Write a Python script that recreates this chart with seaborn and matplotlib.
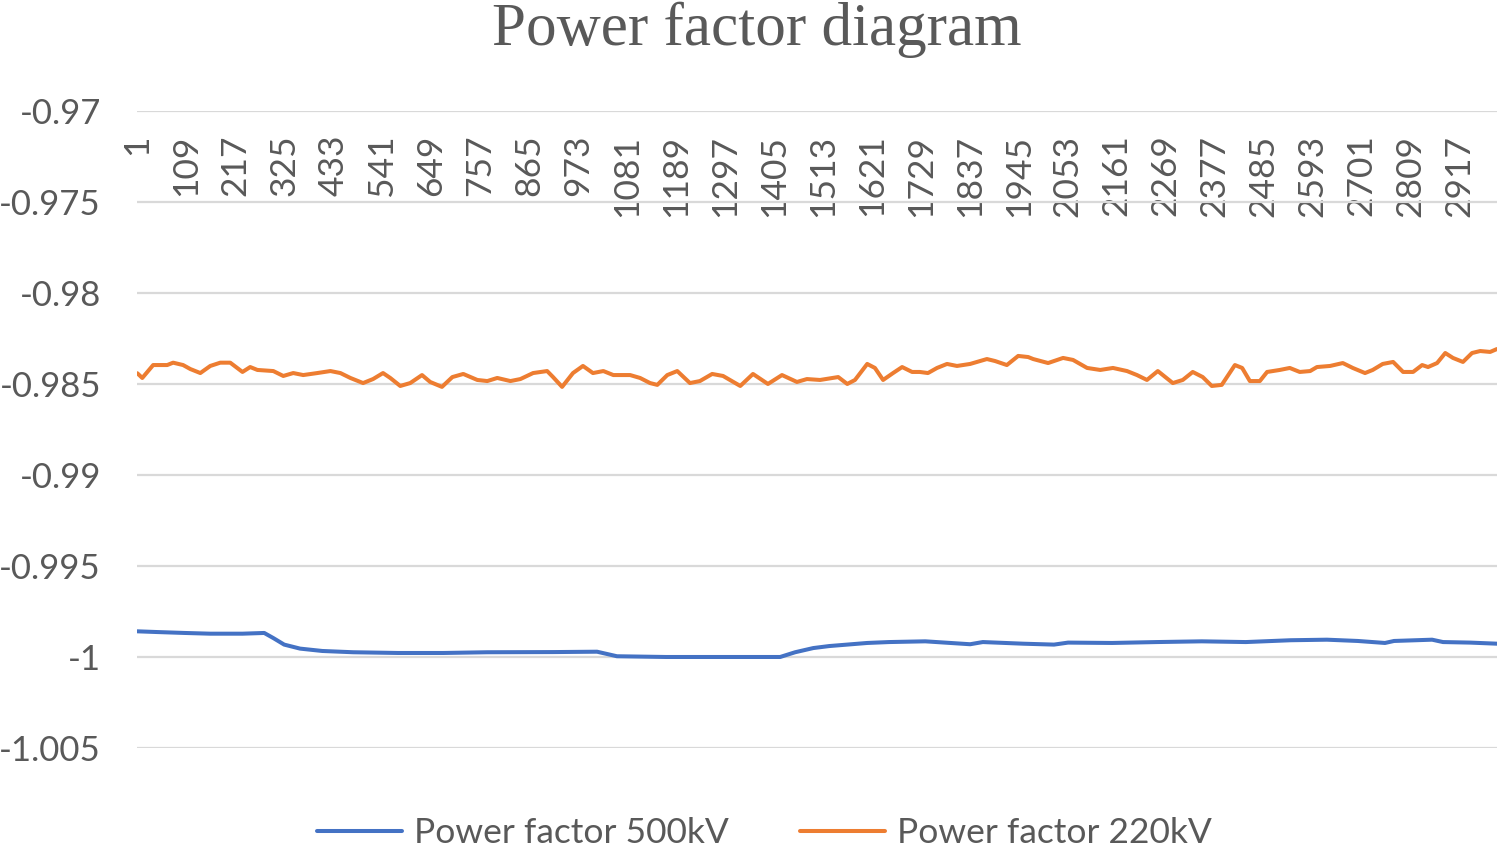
import matplotlib
matplotlib.use("Agg")
import matplotlib.pyplot as plt
from matplotlib.lines import Line2D
import pandas as pd
import seaborn as sns

BLUE = "#4472C4"
ORANGE = "#ED7D31"
TEXT = "#595959"
GRID = "#D9D9D9"

series_names = ["Power factor 500kV", "Power factor 220kV"]

# sample number and power factor
cat_500 = [1, 45, 105, 162, 233, 281, 301, 325, 360, 409,
           477, 576, 676, 773, 920, 1015, 1059, 1167, 1315, 1419,
           1452, 1492, 1527, 1611, 1659, 1739, 1838, 1866, 1955, 2023,
           2054, 2151, 2250, 2349, 2446, 2545, 2625, 2693, 2753, 2773,
           2857, 2881, 2941, 3000]
pf_500 = [-0.99859, -0.99863, -0.99868, -0.99872, -0.99872, -0.99868, -0.99896, -0.99932, -0.99954, -0.99967,
          -0.99974, -0.99978, -0.99978, -0.99974, -0.99973, -0.99971, -0.99996, -1.00000, -1.00000, -1.00000,
          -0.99974, -0.99951, -0.99940, -0.99923, -0.99918, -0.99914, -0.99930, -0.99918, -0.99927, -0.99932,
          -0.99921, -0.99923, -0.99918, -0.99914, -0.99918, -0.99908, -0.99905, -0.99912, -0.99923, -0.99912,
          -0.99905, -0.99918, -0.99921, -0.99927]

cat_220 = [1, 12, 36, 67, 80, 102, 118, 140, 162, 184,
           206, 233, 250, 266, 301, 323, 345, 367, 398, 427,
           449, 471, 499, 521, 543, 559, 581, 603, 629, 647,
           673, 696, 720, 751, 773, 795, 824, 846, 874, 905,
           918, 938, 962, 984, 1006, 1029, 1051,
           1088, 1110, 1132, 1148, 1170, 1192, 1220, 1242, 1269, 1293,
           1331, 1359, 1392, 1423, 1456, 1478, 1507, 1547, 1567, 1584,
           1611, 1628, 1646, 1668, 1688, 1710, 1727, 1745, 1765, 1787,
           1809, 1838, 1875, 1893, 1919, 1944, 1966, 1977, 2010,
           2043, 2065, 2096, 2125, 2153, 2184, 2206, 2228, 2252, 2285,
           2307, 2329, 2351, 2371, 2393, 2422, 2438, 2455, 2477, 2493,
           2521, 2543, 2565, 2588, 2603, 2632, 2660, 2682, 2709, 2726,
           2748, 2771, 2793, 2815, 2835, 2848, 2868, 2886, 2903, 2925,
           2945, 2963, 2985, 3000]
pf_220 = [-0.98441, -0.98467, -0.98396, -0.98396, -0.98383, -0.98396, -0.98418, -0.98440, -0.98401, -0.98383,
          -0.98383, -0.98434, -0.98407, -0.98423, -0.98429, -0.98456, -0.98440, -0.98451, -0.98440, -0.98429,
          -0.98440, -0.98467, -0.98495, -0.98473, -0.98440, -0.98467, -0.98511, -0.98495, -0.98451, -0.98489,
          -0.98516, -0.98462, -0.98445, -0.98478, -0.98484, -0.98467, -0.98484, -0.98473, -0.98440, -0.98429,
          -0.98462, -0.98516, -0.98440, -0.98401, -0.98440, -0.98429, -0.98451,
          -0.98451, -0.98467, -0.98495, -0.98505, -0.98451, -0.98429, -0.98495, -0.98484, -0.98445, -0.98456,
          -0.98511, -0.98445, -0.98500, -0.98451, -0.98489, -0.98473, -0.98478, -0.98462, -0.98500, -0.98478,
          -0.98390, -0.98412, -0.98478, -0.98440, -0.98407, -0.98434, -0.98434, -0.98440, -0.98412, -0.98390,
          -0.98401, -0.98390, -0.98363, -0.98374, -0.98396, -0.98346, -0.98352, -0.98363, -0.98385,
          -0.98357, -0.98368, -0.98412, -0.98423, -0.98412, -0.98429, -0.98451, -0.98478, -0.98429, -0.98495,
          -0.98478, -0.98434, -0.98462, -0.98511, -0.98505, -0.98396, -0.98412, -0.98484, -0.98484, -0.98434,
          -0.98423, -0.98412, -0.98434, -0.98429, -0.98407, -0.98401, -0.98385, -0.98412, -0.98440, -0.98423,
          -0.98390, -0.98379, -0.98434, -0.98434, -0.98396, -0.98407, -0.98385, -0.98330, -0.98357, -0.98379,
          -0.98330, -0.98319, -0.98324, -0.98308]

x_ticks = [1, 109, 217, 325, 433, 541, 649, 757, 865, 973,
           1081, 1189, 1297, 1405, 1513, 1621, 1729, 1837, 1945, 2053,
           2161, 2269, 2377, 2485, 2593, 2701, 2809, 2917]
y_ticks = [-1.005, -1.0, -0.995, -0.99, -0.985, -0.98, -0.975, -0.97]
y_tick_labels = ["-1.005", "-1", "-0.995", "-0.99", "-0.985", "-0.98", "-0.975", "-0.97"]

df = pd.concat([
    pd.DataFrame({"sample": cat_500, "pf": pf_500, "series": series_names[0]}),
    pd.DataFrame({"sample": cat_220, "pf": pf_220, "series": series_names[1]}),
])

sns.set_theme(style="white")
plt.rcParams["font.family"] = ["Lato", "DejaVu Sans"]

fig = plt.figure(figsize=(14.98, 8.47), dpi=100)
ax = fig.add_axes([0.0915, 0.1169, 0.9078, 0.7521])

sns.lineplot(data=df, x="sample", y="pf", hue="series", hue_order=series_names,
             palette=[BLUE, ORANGE], estimator=None, sort=False,
             linewidth=2.9, legend=False, ax=ax)

ax.set_xlim(0.5, 3000)
ax.set_ylim(-1.005, -0.97)
for side in ax.spines.values():
    side.set_visible(False)
ax.yaxis.grid(True, color=GRID, linewidth=1.6)
ax.xaxis.grid(False)
ax.set_axisbelow(True)
ax.set_xlabel("")
ax.set_ylabel("")

ax.set_yticks(y_ticks)
ax.set_yticklabels(y_tick_labels, fontsize=25, color=TEXT)
ax.tick_params(axis="y", length=0, pad=26)

# category labels sit just under the top gridline, like Excel does
ax.tick_params(axis="x", length=0, top=True, bottom=False,
               labeltop=True, labelbottom=False, pad=-17)
ax.set_xticks(x_ticks)
ax.set_xticklabels([str(t) for t in x_ticks], rotation=90, va="top", ha="center",
                   fontsize=25.5, color=TEXT)

fig.text(0.5055, 1 - 45 / 847, "Power factor diagram", ha="center", va="baseline",
         fontsize=44, color=TEXT, family="Liberation Serif")

handles = [Line2D([], [], color=BLUE, lw=2.9), Line2D([], [], color=ORANGE, lw=2.9)]
fig.legend(handles, series_names, loc="center", bbox_to_anchor=(0.5104, 0.0165),
           ncol=2, frameon=False, fontsize=25.5, labelcolor=TEXT,
           handlelength=2.4, handletextpad=0.35, columnspacing=2.0)

fig.savefig("out.png", dpi=100)
